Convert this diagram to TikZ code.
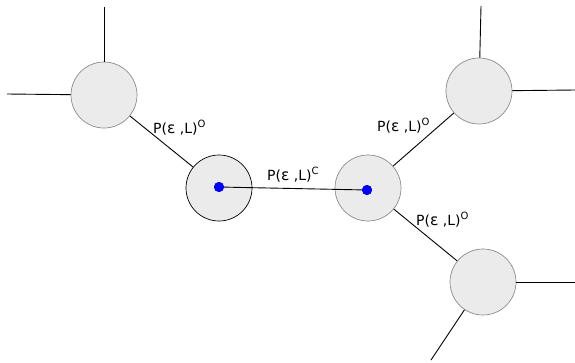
\documentclass[tikz,border=0pt]{standalone}
\usepackage{fontspec}
\setmainfont{DejaVu Sans}
\newcommand{\supx}[1]{\raisebox{5.5bp}{\fontsize{10bp}{12bp}\selectfont #1}}
\newcommand{\epsx}{{\fontsize{15.5bp}{16bp}\selectfont ε}}
\begin{document}
\begin{tikzpicture}[x=1bp,y=-1bp,
  blob/.style={circle,draw=black!45,fill=black!8,minimum size=66bp,inner sep=0pt,line width=0.7bp},
  blobdark/.style={blob,draw=black},
  dot/.style={circle,fill=blue,minimum size=10bp,inner sep=0pt},
  link/.style={draw=black,line width=0.9bp},
  lab/.style={anchor=base west,inner sep=0pt,font=\fontsize{14bp}{16bp}\selectfont}]
\useasboundingbox (0,0) rectangle (575,362);
\node[blob] (tl) at (104,95) {};
\node[blob] (tr) at (479,91) {};
\node[blob] (br) at (483,282) {};
\node[blobdark] (lc) at (219,188) {};
\node[blob] (rc) at (368,188) {};
\coordinate (tlup) at (104,7);
\coordinate (tlleft) at (7,94);
\coordinate (trup) at (481,6);
\coordinate (trright) at (575,90);
\coordinate (brright) at (575,282);
\coordinate (brdown) at (431,360);
\draw[link] (tlup) -- (tl);
\draw[link] (tlleft) -- (tl);
\draw[link] (trup) -- (tr);
\draw[link] (trright) -- (tr);
\draw[link] (brright) -- (br);
\draw[link] (brdown) -- (br);
\draw[link] (tl) -- (lc);
\draw[link] (rc) -- (tr);
\draw[link] (rc) -- (br);
\node[dot] (dl) at (219,187) {};
\node[dot] (dr) at (367,190) {};
\draw[link] (dl.center) -- (dr.center);
\node[dot] at (dl) {};
\node[dot] at (dr) {};
\node[lab] (l1) at (153,133) {P(\epsx{} ,L)\supx{O}};
\node[lab] (l2) at (267,180) {P(\epsx{} ,L)\supx{C}};
\node[lab] (l3) at (377,131) {P(\epsx{} ,L)\supx{O}};
\node[lab] (l4) at (416,225) {P(\epsx{} ,L)\supx{O}};
\end{tikzpicture}
\end{document}
